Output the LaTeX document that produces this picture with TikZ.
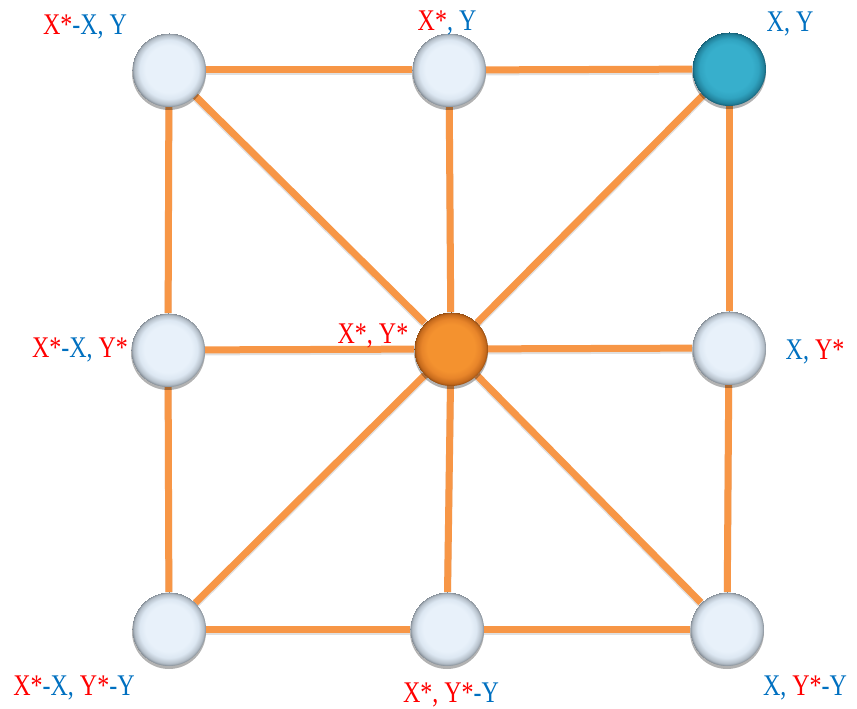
\documentclass[tikz,border=0pt]{standalone}
\usepackage{fontspec}
\setmainfont{Liberation Serif}
\usetikzlibrary{shadows,backgrounds}
\definecolor{edgeor}{HTML}{F79646}
\definecolor{lred}{HTML}{FF0000}
\definecolor{lblue}{HTML}{0070C0}
\definecolor{wcA}{HTML}{E8F1FA}
\definecolor{wcB}{HTML}{DCE7F2}
\definecolor{wcC}{HTML}{B4BEC8}
\definecolor{wcD}{HTML}{7F8891}
\definecolor{ocA}{HTML}{F4922F}
\definecolor{ocB}{HTML}{E8852A}
\definecolor{ocC}{HTML}{C66A1C}
\definecolor{ocD}{HTML}{8E4910}
\definecolor{tcA}{HTML}{37AFCC}
\definecolor{tcB}{HTML}{30A3C0}
\definecolor{tcC}{HTML}{22819B}
\definecolor{tcD}{HTML}{155A70}
\pgfdeclareradialshading{wball}{\pgfpoint{0bp}{2bp}}{color(0bp)=(wcA); color(16bp)=(wcA); color(20bp)=(wcB); color(23.5bp)=(wcC); color(25bp)=(wcD)}
\pgfdeclareradialshading{oball}{\pgfpoint{0bp}{2bp}}{color(0bp)=(ocA); color(16bp)=(ocA); color(20bp)=(ocB); color(23.5bp)=(ocC); color(25bp)=(ocD)}
\pgfdeclareradialshading{tball}{\pgfpoint{0bp}{2bp}}{color(0bp)=(tcA); color(16bp)=(tcA); color(20bp)=(tcB); color(23.5bp)=(tcC); color(25bp)=(tcD)}
\newcommand\rc[1]{\textcolor{lred}{#1}}
\newcommand\bc[1]{\textcolor{lblue}{#1}}
\tikzset{
  ballbase/.style={circle, minimum size=74pt, inner sep=0pt, shade,
    drop shadow={shadow xshift=0pt, shadow yshift=-3pt, opacity=0.3, fill=black}},
  wnode/.style={ballbase, shading=wball},
  onode/.style={ballbase, shading=oball},
  tnode/.style={ballbase, shading=tball},
  link/.style={draw=edgeor, line width=7pt,
    preaction={draw=black, opacity=0.12, line width=7pt, transform canvas={yshift=-2pt}}},
  lab/.style={anchor=base, inner sep=0pt, font=\fontsize{30}{30}\selectfont}
}
\begin{document}
\begin{tikzpicture}[x=1pt,y=-1pt]
\useasboundingbox (0,0) rectangle (857,709);
\node[wnode] (tl) at (169,70) {};
\node[wnode] (tm) at (449,70) {};
\node[tnode] (tr) at (729,69) {};
\node[wnode] (ml) at (168,350) {};
\node[onode] (c) at (451,349) {};
\node[wnode] (mr) at (729,348) {};
\node[wnode] (bl) at (169,629) {};
\node[wnode] (bm) at (447,629) {};
\node[wnode] (br) at (727,629) {};
\begin{scope}[on background layer]
\draw[link] (tl) -- (tm);
\draw[link] (tm) -- (tr);
\draw[link] (tr) -- (mr);
\draw[link] (mr) -- (br);
\draw[link] (br) -- (bm);
\draw[link] (bm) -- (bl);
\draw[link] (bl) -- (ml);
\draw[link] (ml) -- (tl);
\draw[link] (c) -- (tl);
\draw[link] (c) -- (tm);
\draw[link] (c) -- (tr);
\draw[link] (c) -- (ml);
\draw[link] (c) -- (mr);
\draw[link] (c) -- (bl);
\draw[link] (c) -- (bm);
\draw[link] (c) -- (br);
\end{scope}
\node[lab] (ltl) at (85,35) {\scalebox{0.8}[1]{\rc{X*}\bc{-X, Y}}};
\node[lab] (ltm) at (447,31) {\scalebox{0.8}[1]{\rc{X*}\bc{, Y}}};
\node[lab] (ltr) at (790,32) {\scalebox{0.8}[1]{\bc{X, Y}}};
\node[lab] (lml) at (80,357) {\scalebox{0.8}[1]{\rc{X*}\bc{-X, }\rc{Y*}}};
\node[lab] (lc) at (373,343) {\scalebox{0.8}[1]{\rc{X*, Y*}}};
\node[lab] (lmr) at (815,359) {\scalebox{0.8}[1]{\bc{X, }\rc{Y*}}};
\node[lab] (lbl) at (74,695) {\scalebox{0.8}[1]{\rc{X*}\bc{-X, }\rc{Y*}\bc{-Y}}};
\node[lab] (lbm) at (451,702) {\scalebox{0.8}[1]{\rc{X*, Y*}\bc{-Y}}};
\node[lab] (lbr) at (805,695) {\scalebox{0.8}[1]{\bc{X, }\rc{Y*}\bc{-Y}}};
\end{tikzpicture}
\end{document}
